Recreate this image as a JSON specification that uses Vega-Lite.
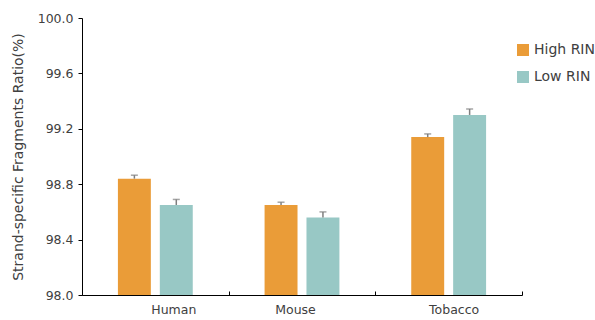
{
  "$schema": "https://vega.github.io/schema/vega-lite/v6.json",
  "width": 440,
  "height": 277,
  "autosize": {"type": "none"},
  "padding": {"left": 82, "top": 18, "right": 73, "bottom": 25},
  "background": "white",
  "config": {
    "view": {"stroke": null},
    "font": "DejaVu Sans",
    "axis": {"labelColor": "#404040", "titleColor": "#404040", "labelFont": "DejaVu Sans", "titleFont": "DejaVu Sans"}
  },
  "data": {
    "values": [
      {"species": "Human", "rin": "High RIN", "value": 98.84, "upper": 98.865},
      {"species": "Human", "rin": "Low RIN", "value": 98.65, "upper": 98.69},
      {"species": "Mouse", "rin": "High RIN", "value": 98.65, "upper": 98.67},
      {"species": "Mouse", "rin": "Low RIN", "value": 98.56, "upper": 98.60},
      {"species": "Tobacco", "rin": "High RIN", "value": 99.14, "upper": 99.163},
      {"species": "Tobacco", "rin": "Low RIN", "value": 99.30, "upper": 99.343}
    ]
  },
  "encoding": {
    "x": {
      "field": "species", "type": "nominal", "sort": ["Human", "Mouse", "Tobacco"],
      "scale": {"paddingInner": 0, "paddingOuter": 0},
      "axis": {
        "title": null, "labelAngle": 0, "domainColor": "#000000", "domainWidth": 1,
        "tickBand": "extent", "tickColor": "#000000", "tickSize": -4,
        "labelPadding": 12, "labelFontSize": 12.5,
        "labelOffset": {"expr": "datum.value == 'Human' ? 18 : datum.value == 'Mouse' ? -7 : 5"}
      }
    },
    "xOffset": {
      "field": "rin", "type": "nominal", "sort": ["High RIN", "Low RIN"],
      "scale": {"paddingInner": 0.214, "paddingOuter": 0.857}
    }
  },
  "layer": [
    {
      "mark": {"type": "bar"},
      "encoding": {
        "y": {
          "field": "value", "type": "quantitative",
          "scale": {"domain": [98, 100], "zero": false, "nice": false},
          "axis": {
            "title": "Strand-specific Fragments Ratio(%)", "titleFontSize": 14, "titleFontWeight": "normal",
            "titlePadding": 12,
            "values": [98.0, 98.4, 98.8, 99.2, 99.6, 100.0], "format": ".1f",
            "grid": false, "domainColor": "#000000", "tickColor": "#000000", "tickSize": 4,
            "labelFontSize": 12.5, "labelPadding": 5
          }
        },
        "y2": {"datum": 98},
        "color": {
          "field": "rin", "type": "nominal", "sort": ["High RIN", "Low RIN"],
          "scale": {"domain": ["High RIN", "Low RIN"], "range": ["#EA9C38", "#98C8C5"]},
          "legend": {
            "title": null, "orient": "none", "legendX": 434, "legendY": 25,
            "symbolType": "square", "symbolSize": 144, "symbolStrokeWidth": 0,
            "labelFontSize": 14, "labelFont": "DejaVu Sans", "labelColor": "#404040", "rowPadding": 13, "labelOffset": 4
          }
        }
      }
    },
    {
      "mark": {"type": "rule", "color": "#7f7f7f", "strokeWidth": 1.5},
      "encoding": {
        "y": {"field": "value", "type": "quantitative"},
        "y2": {"field": "upper"}
      }
    },
    {
      "mark": {"type": "tick", "color": "#7f7f7f", "size": 7, "thickness": 1.5},
      "encoding": {
        "y": {"field": "upper", "type": "quantitative"}
      }
    }
  ]
}
